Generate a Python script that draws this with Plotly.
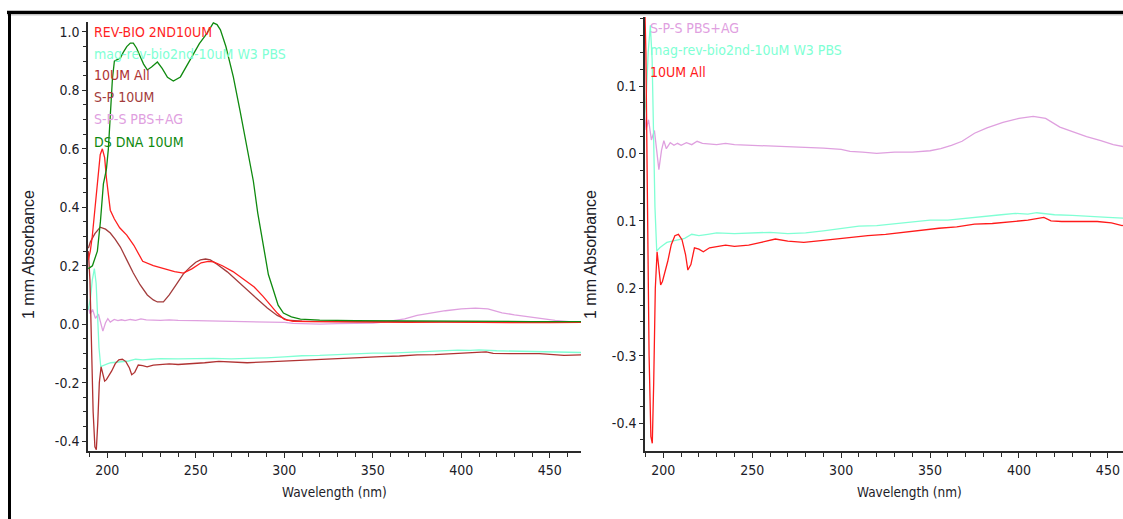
import plotly.graph_objects as go

# ---- spectra (wavelength in nm, absorbance per 1 mm) ----
wl_rev = [189.3, 190.4, 191.5, 193, 194.5, 196, 197.2, 198.5, 199.5, 201.7, 204, 207, 211, 215, 220,
          226, 232, 238, 243, 248, 253, 257, 260, 265, 271, 277, 283, 288, 292, 296, 300, 305, 315,
          330, 350, 370, 390, 410, 430, 450, 468]
abs_rev = [0.22, 0.25, 0.30, 0.40, 0.50, 0.58, 0.60, 0.57, 0.50, 0.39, 0.36, 0.33, 0.305, 0.27, 0.215,
           0.20, 0.19, 0.18, 0.175, 0.19, 0.21, 0.215, 0.213, 0.20, 0.18, 0.155, 0.127, 0.095, 0.066,
           0.038, 0.016, 0.01, 0.009, 0.008, 0.007, 0.006, 0.007, 0.006, 0.004, 0.005, 0.006]

wl_mag = [189.3, 190.5, 191.5, 192.7, 193.7, 194.5, 195.3, 196.3, 198, 200, 202, 205, 208, 212, 216,
          220, 225, 230, 240, 250, 260, 270, 280, 290, 300, 310, 320, 330, 340, 350, 360, 370, 380,
          390, 398, 405, 410, 420, 430, 440, 450, 460, 468]
abs_mag = [0.05, 0.09, 0.15, 0.19, 0.14, 0.04, -0.08, -0.145, -0.14, -0.136, -0.132, -0.13, -0.128,
           -0.126, -0.12, -0.122, -0.12, -0.118, -0.119, -0.118, -0.117, -0.119, -0.118, -0.115, -0.112,
           -0.108, -0.107, -0.104, -0.102, -0.099, -0.099, -0.096, -0.093, -0.091, -0.089, -0.09,
           -0.088, -0.091, -0.092, -0.094, -0.095, -0.096, -0.097]

wl_all = [189.3, 190.2, 191, 192, 193, 193.8, 194.6, 195.5, 196.5, 197.5, 198.5, 199.5, 201, 202.5,
          204.5, 206.5, 208.5, 210.5, 212.5, 213.8, 215.5, 217.5, 220, 222.5, 226, 230, 235, 240, 248,
          255, 263, 270, 279, 290, 300, 307, 315, 325, 335, 346, 355, 365, 375, 385, 395, 405, 414,
          418, 424, 435, 444, 452, 458, 468]
abs_all = [0.25, 0.15, -0.05, -0.3, -0.42, -0.43, -0.34, -0.2, -0.146, -0.17, -0.195, -0.19, -0.175,
           -0.16, -0.135, -0.122, -0.12, -0.128, -0.15, -0.173, -0.165, -0.14, -0.142, -0.146, -0.14,
           -0.138, -0.136, -0.138, -0.136, -0.132, -0.127, -0.13, -0.132, -0.129, -0.126, -0.124,
           -0.122, -0.12, -0.117, -0.113, -0.111, -0.109, -0.105, -0.104, -0.101, -0.099, -0.095,
           -0.1, -0.101, -0.101, -0.101, -0.103, -0.107, -0.105]

wl_sp = [189.3, 190.4, 193, 196, 199, 201.7, 204.5, 207.4, 211, 214.7, 218.5, 222.6, 226, 228.3, 231.7,
         235, 239.6, 243, 246.9, 250, 252.6, 255.5, 258.2, 262, 267.8, 273, 279.1, 285, 290.4, 296,
         301.7, 310, 330, 360, 400, 440, 468]
abs_sp = [0.26, 0.281, 0.31, 0.332, 0.325, 0.312, 0.29, 0.264, 0.22, 0.175, 0.135, 0.10, 0.083, 0.076,
          0.076, 0.1, 0.141, 0.172, 0.196, 0.212, 0.22, 0.223, 0.22, 0.205, 0.179, 0.15, 0.117, 0.083,
          0.055, 0.03, 0.014, 0.01, 0.009, 0.008, 0.008, 0.007, 0.007]

wl_sps = [189.3, 190.3, 191.7, 193.3, 195, 196.3, 197.5, 199, 200.3, 201.7, 203.9, 206, 208, 210, 213,
          216, 219, 222, 226, 230, 235, 240, 250, 260, 270, 280, 290, 300, 305, 312, 320, 330, 340,
          350, 356, 362, 368, 375, 382, 391, 400, 408, 415, 423, 430, 438, 446, 453, 461, 468]
abs_sps = [0.06, 0.035, 0.05, 0.02, 0.034, 0.005, -0.024, 0.005, 0.019, 0.007, 0.016, 0.012, 0.015,
           0.012, 0.016, 0.013, 0.018, 0.015, 0.014, 0.013, 0.015, 0.013, 0.012, 0.011, 0.01, 0.01,
           0.008, 0.006, 0.003, 0.002, 0.0, 0.002, 0.002, 0.004, 0.007, 0.012, 0.018, 0.03, 0.038,
           0.046, 0.052, 0.055, 0.052, 0.039, 0.032, 0.025, 0.019, 0.013, 0.009, 0.006]

wl_ds = [189.3, 191.6, 194.4, 196.1, 197.8, 199.5, 200.6, 201.7, 202.9, 204, 205.5, 207.4, 209, 211,
         213, 214.7, 216.5, 218.7, 220.5, 222.6, 225, 228.3, 231, 234, 237.3, 241.3, 244.5, 248.6,
         252, 256.5, 259.9, 262, 263.9, 267, 271.2, 275, 278, 280.8, 282.5, 285, 288.2, 291, 293.8,
         296.5, 299.5, 304, 309.1, 320, 340, 360, 380, 400, 420, 440, 468]
abs_ds = [0.19, 0.2, 0.25, 0.35, 0.48, 0.53, 0.6, 0.72, 0.84, 0.9, 0.905, 0.911, 0.93, 0.95, 0.962,
          0.962, 0.945, 0.914, 0.89, 0.87, 0.88, 0.897, 0.875, 0.845, 0.832, 0.846, 0.88, 0.928, 0.96,
          0.997, 1.031, 1.025, 1.007, 0.95, 0.846, 0.73, 0.63, 0.538, 0.49, 0.38, 0.264, 0.17, 0.117,
          0.065, 0.038, 0.025, 0.017, 0.014, 0.012, 0.011, 0.011, 0.01, 0.01, 0.009, 0.009]

# ---- tick labels ----
left_y_vals = [1.0, 0.8, 0.6, 0.4, 0.2, 0.0, -0.2, -0.4]
left_y_text = ["1.0", "0.8", "0.6", "0.4", "0.2", "0.0", "-0.2", "-0.4"]
right_y_vals = [0.1, 0.0, -0.1, -0.2, -0.3, -0.4]
right_y_text = ["0.1", "0.0", "0.1", "0.2", "-0.3", "-0.4"]
x_tick_vals = [200, 250, 300, 350, 400, 450]
x_tick_text = ["200", "250", "300", "350", "400", "450"]

W, H = 1123, 519
NARROW = "Liberation Sans Narrow, Arial Narrow, DejaVu Sans Condensed, sans-serif"
REGULAR = "Liberation Sans, Arial, sans-serif"
TXT = "#1c1c28"
AXC = "#2a2a2a"

C_REV = "#ff1f1f"
C_MAG = "#80ffd4"
C_ALL_L = "#b03232"
C_ALL_R = "#ff1a1a"
C_SP = "#a33c3c"
C_SPS = "#dfa0df"
C_DS = "#0f8a0f"


def px_x(p):
    return p / W


def px_y(p):
    return (H - p) / H


fig = go.Figure()

left = [
    (wl_sps, abs_sps, C_SPS, "S-P-S PBS+AG"),
    (wl_mag, abs_mag, C_MAG, "mag-rev-bio2nd-10uM W3 PBS"),
    (wl_all, abs_all, C_ALL_L, "10UM All"),
    (wl_sp, abs_sp, C_SP, "S-P 10UM"),
    (wl_rev, abs_rev, C_REV, "REV-BIO 2ND10UM"),
    (wl_ds, abs_ds, C_DS, "DS DNA 10UM"),
]
for xs, ys, col, name in left:
    fig.add_trace(go.Scatter(x=xs, y=ys, mode="lines", name=name,
                             line=dict(color=col, width=1.3), xaxis="x", yaxis="y"))

right = [
    (wl_sps, abs_sps, C_SPS, "S-P-S PBS+AG"),
    (wl_mag, abs_mag, C_MAG, "mag-rev-bio2nd-10uM W3 PBS"),
    (wl_all, abs_all, C_ALL_R, "10UM All"),
]
for xs, ys, col, name in right:
    fig.add_trace(go.Scatter(x=xs, y=ys, mode="lines", name=name,
                             line=dict(color=col, width=1.3), xaxis="x2", yaxis="y2"))

tickfont = dict(family=NARROW, size=14, color=TXT)


def xaxis_cfg(domain, rng, anchor):
    return dict(domain=domain, range=rng, anchor=anchor, showgrid=False, zeroline=False,
                showline=True, linecolor=AXC, linewidth=1.5,
                tickmode="array", tickvals=x_tick_vals, ticktext=x_tick_text,
                ticks="outside", ticklen=5, tickcolor=AXC, tickwidth=1.2, tickfont=tickfont,
                minor=dict(ticks="outside", ticklen=4, dtick=10, tick0=0, tickcolor=AXC, tickwidth=1.2))


def yaxis_cfg(domain, rng, anchor, vals, text, minor_dtick):
    return dict(domain=domain, range=rng, anchor=anchor, showgrid=False, zeroline=False,
                showline=True, linecolor=AXC, linewidth=1.5,
                tickmode="array", tickvals=vals, ticktext=text,
                ticks="outside", ticklen=4, tickcolor=AXC, tickwidth=1.2, tickfont=tickfont,
                minor=dict(ticks="outside", ticklen=3, dtick=minor_dtick, tick0=0, tickcolor=AXC,
                           tickwidth=1.2))


annotations = []
legend_left = [("REV-BIO 2ND10UM", C_REV, 32), ("mag-rev-bio2nd-10uM W3 PBS", C_MAG, 54),
               ("10UM All", C_ALL_L, 75), ("S-P 10UM", C_SP, 97),
               ("S-P-S PBS+AG", C_SPS, 119), ("DS DNA 10UM", C_DS, 142)]
for text, col, yc in legend_left:
    annotations.append(dict(text=text, xref="paper", yref="paper", x=px_x(92), y=px_y(yc),
                            xanchor="left", yanchor="middle", showarrow=False,
                            font=dict(family=NARROW, size=14, color=col)))
legend_right = [("S-P-S PBS+AG", C_SPS, 28), ("mag-rev-bio2nd-10uM W3 PBS", C_MAG, 50),
                ("10UM All", C_ALL_R, 72)]
for text, col, yc in legend_right:
    annotations.append(dict(text=text, xref="paper", yref="paper", x=px_x(648), y=px_y(yc),
                            xanchor="left", yanchor="middle", showarrow=False,
                            font=dict(family=NARROW, size=14, color=col)))

for xc in (334, 909):
    annotations.append(dict(text="Wavelength (nm)", xref="paper", yref="paper", x=px_x(xc),
                            y=px_y(492), xanchor="center", yanchor="middle", showarrow=False,
                            font=dict(family=NARROW, size=13.5, color=TXT)))
for xc in (28, 590):
    annotations.append(dict(text="1 mm Absorbance", xref="paper", yref="paper", x=px_x(xc),
                            y=px_y(255), xanchor="center", yanchor="middle", showarrow=False,
                            textangle=-90, font=dict(family=REGULAR, size=16, color=TXT)))

shapes = [
    # frame edges along the top and left
    dict(type="line", xref="paper", yref="paper", x0=px_x(7), x1=1.0, y0=px_y(12.5), y1=px_y(12.5),
         line=dict(color="#000000", width=3.5)),
    dict(type="line", xref="paper", yref="paper", x0=px_x(7), x1=1.0, y0=px_y(15), y1=px_y(15),
         line=dict(color="#c8c8c8", width=1)),
    dict(type="line", xref="paper", yref="paper", x0=px_x(9.5), x1=px_x(9.5), y0=px_y(11), y1=0,
         line=dict(color="#000000", width=3)),
]

fig.update_layout(
    width=W, height=H, margin=dict(l=0, r=0, t=0, b=0),
    paper_bgcolor="white", plot_bgcolor="white", showlegend=False,
    xaxis=xaxis_cfg([px_x(88), px_x(581)], [189.1, 467.6], "y"),
    yaxis=yaxis_cfg([px_y(451), px_y(22)], [-0.434, 1.034], "x", left_y_vals, left_y_text, 0.05),
    xaxis2=xaxis_cfg([px_x(645), 1.0], [189.7, 458.5], "y2"),
    yaxis2=yaxis_cfg([px_y(451), px_y(17)], [-0.4415, 0.2024], "x2", right_y_vals, right_y_text,
                     0.025),
    annotations=annotations, shapes=shapes,
)

fig.write_html("out.html")
